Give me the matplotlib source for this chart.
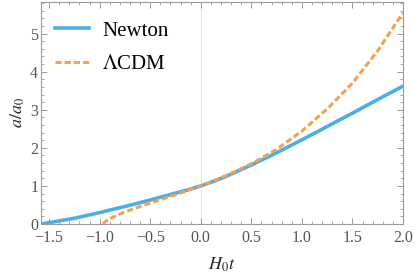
import numpy as np
import matplotlib
matplotlib.use('Agg')
import matplotlib.pyplot as plt
from matplotlib.ticker import MultipleLocator

plt.rcParams['font.family'] = ['Liberation Serif', 'DejaVu Serif']
plt.rcParams['mathtext.fontset'] = 'stix'

# Values
newton_t = [-1.58, -1.25, -1.0, -0.75, -0.5, -0.25, -0.125, 0.0, 0.125, 0.25, 0.375,
            0.5, 0.625, 0.75, 0.875, 1.0, 1.25, 1.5, 1.75, 2.0]
newton_a = [0.0, 0.15, 0.30, 0.46, 0.63, 0.81, 0.90, 1.0, 1.12, 1.25, 1.40,
            1.55, 1.71, 1.87, 2.04, 2.21, 2.56, 2.91, 3.27, 3.62]

lcdm_t = [-0.965, -0.95, -0.9, -0.8, -0.75, -0.5, -0.25, 0.0, 0.25, 0.5, 0.75, 1.0, 1.25, 1.5, 1.75, 2.0]
lcdm_a = [0.0, 0.05, 0.14, 0.26, 0.32, 0.55, 0.77, 1.0, 1.27, 1.58, 1.96, 2.44, 3.02, 3.70, 4.55, 5.55]

blue = '#4DAEE3'
orange = '#F5A050'
frame = '#9a9a9a'

fig = plt.figure(figsize=(4.15, 2.77), dpi=100)
ax = fig.add_axes([41/415, 1 - 224/277, 362/415, 222/277])

ax.axvline(0, color='#e6e6e6', lw=0.8, zorder=0)
ax.plot(newton_t, newton_a, color=blue, lw=2.6, label='Newton')
ax.plot(lcdm_t, lcdm_a, color=orange, lw=2.2, ls=(0, (2.0, 1.0)), label=r'$\Lambda$CDM')

ax.set_xlim(-1.58, 2.0)
ax.set_ylim(0, 5.83)
ax.xaxis.set_major_locator(MultipleLocator(0.5))
ax.xaxis.set_minor_locator(MultipleLocator(0.1))
ax.yaxis.set_major_locator(MultipleLocator(1))
ax.yaxis.set_minor_locator(MultipleLocator(0.2))
ax.set_xticks([-1.5, -1.0, -0.5, 0.0, 0.5, 1.0, 1.5, 2.0])
ax.set_xticklabels(['\u22121.5', '\u22121.0', '\u22120.5', '0.0', '0.5', '1.0', '1.5', '2.0'])

for s in ax.spines.values():
    s.set_color(frame)
    s.set_linewidth(0.8)
ax.tick_params(which='both', direction='in', top=True, right=True, color=frame,
               labelcolor='#555555', labelsize=11.5)
ax.tick_params(axis='x', pad=4)
ax.tick_params(axis='y', pad=2)
ax.tick_params(which='major', length=4, width=0.7)
ax.tick_params(which='minor', length=2, width=0.6)

ax.set_xlabel(r'$H_0t$', fontsize=13, color='#222222', labelpad=7)
ax.set_ylabel(r'$a/a_0$', fontsize=13, color='#222222', labelpad=2)

leg = ax.legend(loc='upper left', bbox_to_anchor=(0.016, 0.952), borderaxespad=0,
                frameon=False, fontsize=15, handlelength=1.63, handletextpad=0.63,
                labelspacing=0.66)

fig.savefig('out.png', dpi=100)
